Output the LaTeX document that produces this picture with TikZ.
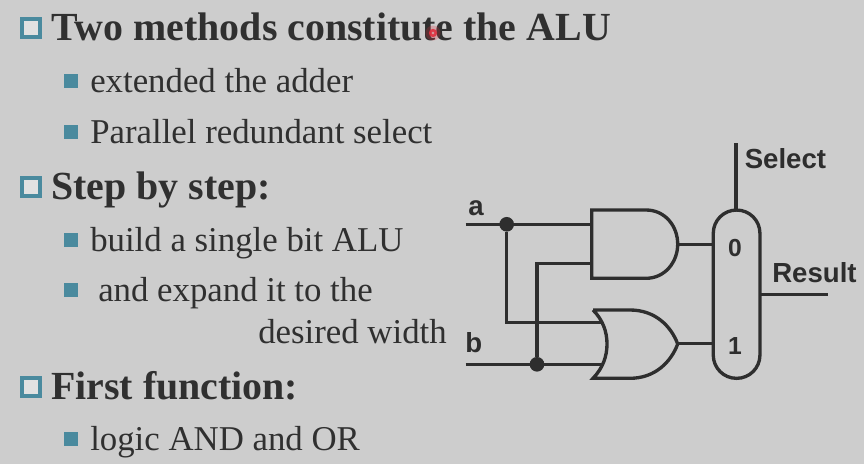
\documentclass[tikz,border=0pt]{standalone}
\usepackage{fontspec}
\setmainfont{Liberation Serif}
\newfontfamily\labelfont{Liberation Sans}
\definecolor{bgc}{HTML}{CDCDCD}
\definecolor{inkc}{HTML}{303030}
\definecolor{tealc}{HTML}{4A8A9E}
\definecolor{wirec}{HTML}{2E2E2E}
\definecolor{dotc}{HTML}{E0303F}
\tikzset{
  head/.style={anchor=base west,inner sep=0pt,text=inkc,font=\fontsize{29.9}{30}\selectfont\bfseries},
  sub/.style={anchor=base west,inner sep=0pt,text=inkc,font=\fontsize{26.1}{27}\selectfont},
  lab/.style={anchor=base west,inner sep=0pt,text=wirec,font=\labelfont\fontsize{20.7}{21}\selectfont\bfseries},
  muxlab/.style={anchor=center,inner sep=0pt,text=wirec,font=\labelfont\fontsize{18.5}{19}\selectfont\bfseries},
  hbox/.style={draw=tealc,line width=3pt,fill=bgc!60!white,minimum size=13.5pt,inner sep=0pt,outer sep=0pt},
  sbox/.style={fill=tealc,minimum size=10.5pt,inner sep=0pt,outer sep=0pt},
  wire/.style={draw=wirec,line width=2.5pt,line join=miter},
  joint/.style={circle,fill=wirec,minimum size=11pt,inner sep=0pt,outer sep=0pt},
  muxbox/.style={draw=wirec,line width=2.5pt,rectangle,rounded corners=17.4pt,minimum width=35pt,minimum height=126.2pt,inner sep=0pt,outer sep=0pt}
}
\begin{document}
\begin{tikzpicture}[x=0.75pt,y=-0.75pt]
\useasboundingbox[fill=bgc] (0,0) rectangle (864,464);
% bullets
\node[hbox] (b1) at (31,28) {};
\node[hbox] (b2) at (31,187) {};
\node[hbox] (b3) at (31,387) {};
\node[sbox] (s1) at (71,81) {};
\node[sbox] (s2) at (71,132) {};
\node[sbox] (s3) at (71,240) {};
\node[sbox] (s4) at (71,290) {};
\node[sbox] (s5) at (71,439) {};
% text
\node[head] (t1) at (51,40.5) {Two methods constitute the ALU};
\node[sub] (t2) at (90,92) {extended the adder};
\node[sub] (t3) at (90,143) {Parallel redundant select};
\node[head] (t4) at (51,199) {Step by step:};
\node[sub] (t5) at (90,251) {build a single bit ALU};
\node[sub] (t6) at (98,301) {and expand it to the};
\node[sub] (t7) at (258,343) {desired width};
\node[head] (t8) at (51,399) {First function:};
\node[sub] (t9) at (90,450) {logic AND and OR};
% pointer
\fill[dotc,opacity=.25] (433,33) circle (7.5);
\fill[dotc,opacity=.9] (433,33) circle (4.2);
\fill[bgc!70!dotc] (433,33) circle (1.4);
% free ends and gate pins
\coordinate (ain) at (465.7,224.3);
\coordinate (bin) at (465.7,364.3);
\coordinate (and1) at (591.7,224.3);
\coordinate (and2) at (591.7,263.3);
\coordinate (andout) at (677.7,244.3);
\coordinate (or1) at (600.5,322.7);
\coordinate (or2) at (602,364.3);
\coordinate (orout) at (677.7,343.3);
\coordinate (sel) at (735.9,143.3);
\coordinate (res) at (828,294.3);
% gates
\path[wire] (591.7,210) -- (646,210) .. controls (665,210) and (677.7,226) .. (677.7,244.2)
  .. controls (677.7,262) and (665,278.3) .. (646,278.3) -- (591.7,278.3) -- cycle;
\path[wire] (593,310) -- (630,310) .. controls (655,310) and (671,326) .. (677.7,344)
  .. controls (671,362) and (655,378.3) .. (630,378.3) -- (593,378.3)
  .. controls (603,368) and (607,356) .. (607,344) .. controls (607,332) and (603,320) .. (593,310);
% mux
\node[muxbox] (mux) at (736.6,294.2) {};
\node[muxlab] (m0) at (735,248.5) {0};
\node[muxlab] (m1) at (735,346) {1};
% joints
\node[joint] (ja) at (506.7,224.3) {};
\node[joint] (jb) at (537,364.3) {};
% wires
\path[wire] (ain) -- (and1);
\path[wire] (bin) -- (or2);
\path[wire] (ja) |- (or1);
\path[wire] (jb) |- (and2);
\path[wire] (andout) -- (andout -| mux.west);
\path[wire] (orout) -- (orout -| mux.west);
\path[wire] (sel) -- (sel |- mux.north);
\path[wire] (res -| mux.east) -- (res);
% labels
\node[lab] (la) at (468,215) {a};
\node[lab] (lb) at (465,352.5) {b};
\node[lab] (lsel) at (744.5,168.5) {Select};
\node[lab] (lres) at (772,282.5) {Result};
\end{tikzpicture}
\end{document}
